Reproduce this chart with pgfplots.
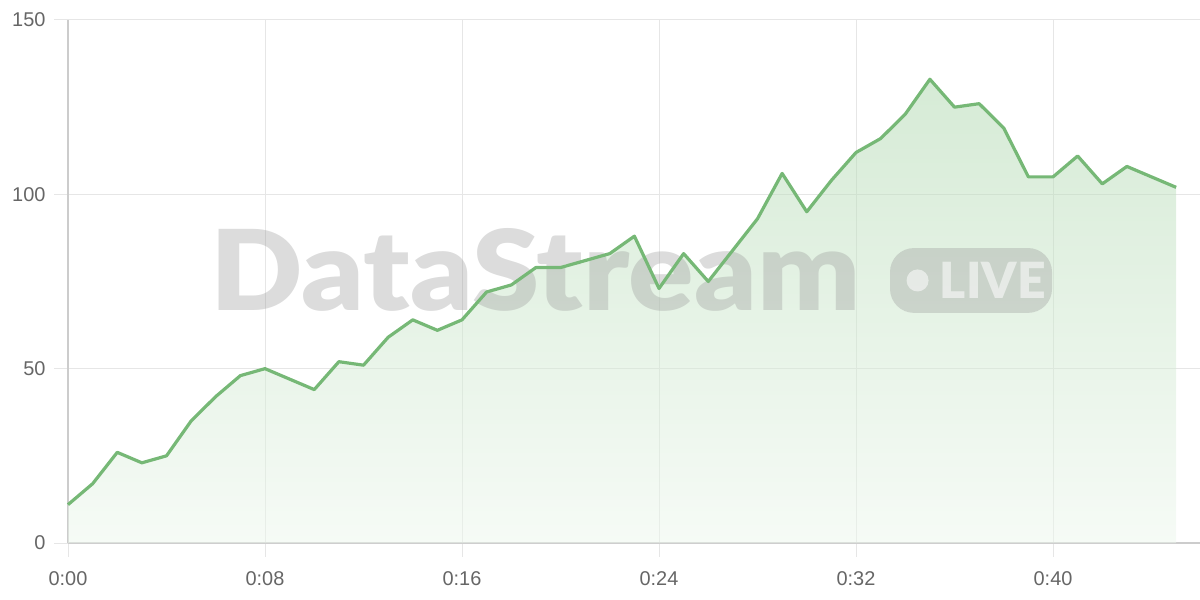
\documentclass[border=0pt]{standalone}
\usepackage{fontspec}
\setmainfont{Liberation Sans}
\newfontfamily\wmfont{Lato Black}
\usepackage{graphicx}
\usepackage{pgfplots}
\usepackage{pgfplotstable}
\pgfplotsset{compat=1.18}
\definecolor{linegreen}{HTML}{76B876}
\definecolor{gridgray}{HTML}{E6E6E6}
\definecolor{axisgray}{HTML}{CCCCCC}
\definecolor{labelgray}{HTML}{666666}
\definecolor{filltop}{RGB}{173,215,173}
\definecolor{fillbot}{RGB}{237,247,237}
\definecolor{wmgray}{HTML}{9A9A9A}

\pgfplotstableread{
t v
0 11
1 17
2 26
3 23
4 25
5 35
6 42
7 48
8 50
9 47
10 44
11 52
12 51
13 59
14 64
15 61
16 64
17 72
18 74
19 79
20 79
21 81
22 83
23 88
24 73
25 83
26 75
27 84
28 93
29 106
30 95
31 104
32 112
33 116
34 123
35 133
36 125
37 126
38 119
39 105
40 105
41 111
42 103
43 108
44 105
45 102
}\datatable

\begin{document}
\begin{tikzpicture}
\useasboundingbox (0,0) rectangle (1200bp,600bp);
\begin{axis}[
  at={(68bp,57bp)}, anchor=south west,
  scale only axis,
  width=1132bp, height=523bp,
  xmin=0, xmax=45.97, ymin=0, ymax=150,
  axis x line=bottom, axis y line=left,
  axis line style={draw=axisgray, line width=1.2bp, -},
  xtick={0,8,16,24,32,40},
  xticklabels={0:00,0:08,0:16,0:24,0:32,0:40},
  ytick={0,50,100,150},
  grid=major,
  major grid style={draw=gridgray, line width=1bp},
  tick style={draw=gridgray, line width=1bp},
  tick align=outside,
  major tick length=14bp,
  xticklabel style={font=\fontsize{20}{22}\selectfont, text=labelgray, yshift=-11bp},
  yticklabel style={font=\fontsize{20}{22}\selectfont, text=labelgray, xshift=-5bp},
  /pgf/number format/assume math mode=true,
  clip=false,
]
\addplot[draw=none, fill opacity=0.5, top color=filltop, bottom color=fillbot] table[x=t,y=v] {\datatable} \closedcycle;
% watermark
\node[anchor=base west, inner sep=0pt, text=wmgray, opacity=0.35] at (axis cs:5.77,66.8)
  {\resizebox{650bp}{82bp}{\wmfont DataStream}};
\fill[wmgray, opacity=0.35, rounded corners=24bp] (axis cs:33.38,66.0) rectangle (axis cs:39.96,84.6);
\fill[white, opacity=0.55] (axis cs:34.5,75.3) circle [radius=11bp];
\node[anchor=base west, inner sep=0pt, text=white, opacity=0.55] at (axis cs:35.4,70.2)
  {\fontsize{50}{50}\selectfont\wmfont LIVE};
\addplot[draw=linegreen, line width=3.2bp, line join=round] table[x=t,y=v] {\datatable};
\end{axis}
\end{tikzpicture}
\end{document}
